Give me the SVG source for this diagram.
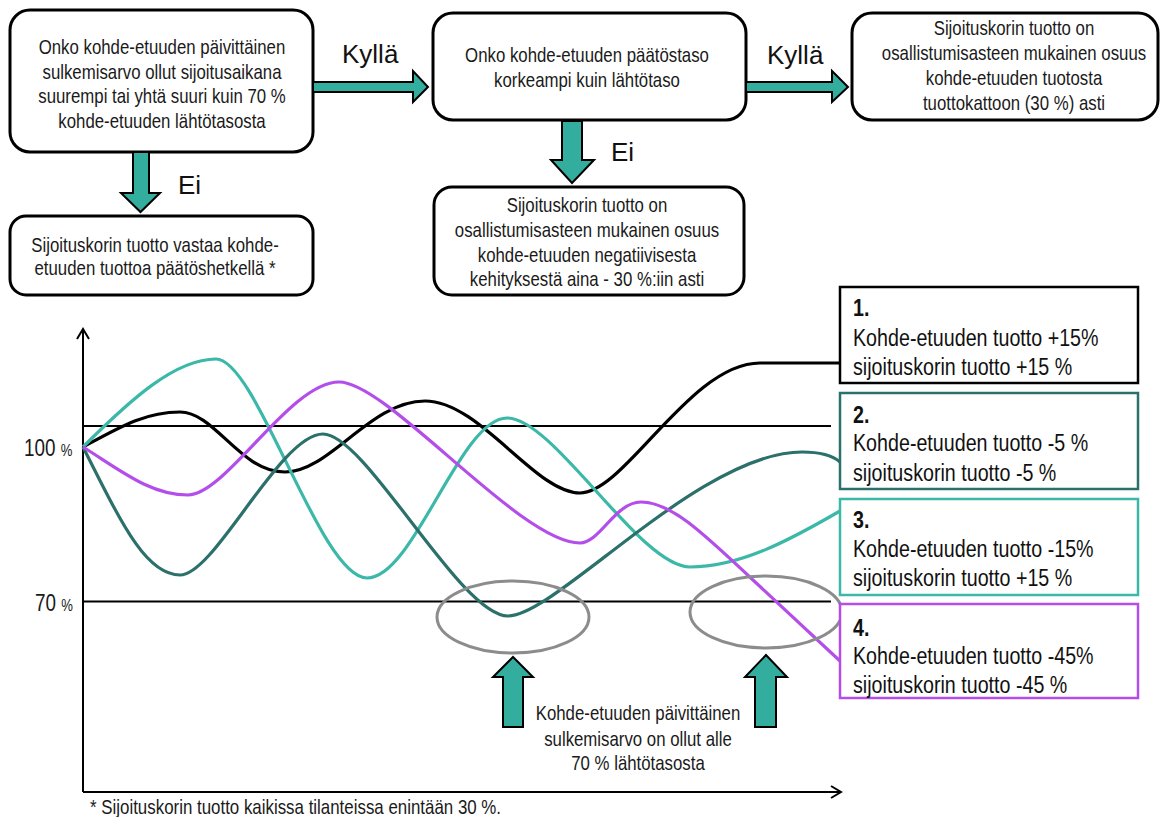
<svg xmlns="http://www.w3.org/2000/svg" width="1162" height="817" viewBox="0 0 1162 817">
<defs>
<style>
.bx{fill:#fff;stroke:#000;stroke-width:3}
.t{font-family:"Liberation Sans",Arial,sans-serif;font-size:20.5px;fill:#1a1a1a;text-anchor:middle}
.lab{font-family:"Liberation Sans",Arial,sans-serif;font-size:26px;fill:#111}
.ar{fill:#33ad9e;stroke:#000;stroke-width:2;stroke-linejoin:miter}
.lg{font-family:"Liberation Sans",Arial,sans-serif;font-size:24px;fill:#111}
.num{font-weight:bold}
.cv{fill:none;stroke-width:3.2}
.ref{stroke:#000;stroke-width:2}
.ell{fill:none;stroke:#8c8c8c;stroke-width:3}
</style>
<marker id="ah" markerWidth="14" markerHeight="14" refX="12" refY="7" orient="auto" markerUnits="userSpaceOnUse">
<path d="M2,1 L12,7 L2,13" fill="none" stroke="#000" stroke-width="2"/>
</marker>
</defs>

<g id="box-question1">
<rect class="bx" x="10" y="10" width="303" height="142" rx="20"/>
<text class="t" transform="matrix(0.82 0 0 1 162 54)">Onko kohde-etuuden päivittäinen</text>
<text class="t" transform="matrix(0.82 0 0 1 162 78.5)">sulkemisarvo ollut sijoitusaikana</text>
<text class="t" transform="matrix(0.82 0 0 1 162 103)">suurempi tai yhtä suuri kuin 70 %</text>
<text class="t" transform="matrix(0.82 0 0 1 162 127.5)">kohde-etuuden lähtötasosta</text>
</g>

<g id="box-question2">
<rect class="bx" x="433" y="13" width="313" height="107" rx="20"/>
<text class="t" transform="matrix(0.82 0 0 1 587 62)">Onko kohde-etuuden päätöstaso</text>
<text class="t" transform="matrix(0.82 0 0 1 587 87)">korkeampi kuin lähtötaso</text>
</g>

<g id="box-yes">
<rect class="bx" x="852" y="13" width="306" height="107" rx="20"/>
<text class="t" transform="matrix(0.82 0 0 1 1014 35)">Sijoituskorin tuotto on</text>
<text class="t" transform="matrix(0.82 0 0 1 1014 60)">osallistumisasteen mukainen osuus</text>
<text class="t" transform="matrix(0.82 0 0 1 1014 85)">kohde-etuuden tuotosta</text>
<text class="t" transform="matrix(0.82 0 0 1 1014 110)">tuottokattoon (30 %) asti</text>
</g>

<g id="box-no1">
<rect class="bx" x="10" y="216" width="303" height="79" rx="16"/>
<text class="t" transform="matrix(0.82 0 0 1 155 252)">Sijoituskorin tuotto vastaa kohde-</text>
<text class="t" transform="matrix(0.82 0 0 1 155 275)">etuuden tuottoa päätöshetkellä *</text>
</g>

<g id="box-no2">
<rect class="bx" x="434" y="187" width="310" height="108" rx="18"/>
<text class="t" transform="matrix(0.82 0 0 1 587 212)">Sijoituskorin tuotto on</text>
<text class="t" transform="matrix(0.82 0 0 1 587 237)">osallistumisasteen mukainen osuus</text>
<text class="t" transform="matrix(0.82 0 0 1 587 262)">kohde-etuuden negatiivisesta</text>
<text class="t" transform="matrix(0.82 0 0 1 587 286)">kehityksestä aina - 30 %:iin asti</text>
</g>

<g id="flow-connectors">
<polygon class="ar" points="313,82 413,82 413,71 428,87 413,102 413,92 313,92"/>
<polygon class="ar" points="746,82 832,82 832,71 848,87 832,102 832,92 746,92"/>
<polygon class="ar" points="133,152 149,152 149,193 160,193 140.5,212 121,193 133,193"/>
<polygon class="ar" points="562,121 582,121 582,160 594,160 572,183 551,160 562,160"/>
<text class="lab" x="342" y="63">Kyllä</text>
<text class="lab" x="767" y="64">Kyllä</text>
<text class="lab" x="178" y="194">Ei</text>
<text class="lab" x="611" y="161">Ei</text>
</g>

<g id="chart">
<line class="ref" x1="83" y1="792" x2="83" y2="329" marker-end="url(#ah)"/>
<line class="ref" x1="83" y1="792" x2="841" y2="792" marker-end="url(#ah)"/>
<line class="ref" x1="83" y1="426" x2="831" y2="426"/>
<line class="ref" x1="83" y1="601.5" x2="831" y2="601.5"/>
<text class="t" transform="matrix(0.82 0 0 1 24 456)" style="text-anchor:start;font-size:23px">100 <tspan style="font-size:16px">%</tspan></text>
<text class="t" transform="matrix(0.82 0 0 1 35 611)" style="text-anchor:start;font-size:23px">70 <tspan style="font-size:16px">%</tspan></text>

<path class="cv" stroke="#000" d="M83,447 C120,427 145,412 180,412 S240,472 285,472 S370,401 425,401 S535,493 580,493 S690,363 760,363 L840,363"/>
<path class="cv" stroke="#3cb8a8" d="M83,447 C130,400 175,359 216,359 S320,578 367,578 S460,418 507,418 S640,567 690,567 S790,540 840,511"/>
<path class="cv" stroke="#2b706b" d="M83,447 C120,520 145,575 180,575 S280,434 323,434 S460,616 508,616 S700,452 802,452 C820,452 832,455 840,462"/>
<path class="cv" stroke="#b34eea" d="M83,447 C120,470 150,495 188,495 S290,382 339,382 S520,543 580,543 C600,543 615,502 641,502 C670,502 700,530 753,580 L840,661"/>

<ellipse class="ell" cx="513" cy="617" rx="76" ry="36"/>
<ellipse class="ell" cx="766" cy="612" rx="76" ry="36"/>
<polygon class="ar" points="503,727 523,727 523,677 533,677 513,657 493,677 503,677"/>
<polygon class="ar" points="755,727 776,727 776,677 787,677 766,655 745,677 755,677"/>
<text class="t" transform="matrix(0.82 0 0 1 638 720)">Kohde-etuuden päivittäinen</text>
<text class="t" transform="matrix(0.82 0 0 1 638 746)">sulkemisarvo on ollut alle</text>
<text class="t" transform="matrix(0.82 0 0 1 638 770)">70 % lähtötasosta</text>
<text class="t" transform="matrix(0.82 0 0 1 90 814)" style="text-anchor:start;font-size:20.6px">* Sijoituskorin tuotto kaikissa tilanteissa enintään 30 %.</text>
</g>

<g id="legend-1">
<rect x="840" y="287" width="298" height="96" fill="#fff" stroke="#000" stroke-width="2.5"/>
<text class="lg num" transform="matrix(0.82 0 0 1 853 316)">1.</text>
<text class="lg" transform="matrix(0.82 0 0 1 853 346)">Kohde-etuuden tuotto +15%</text>
<text class="lg" transform="matrix(0.82 0 0 1 853 375)">sijoituskorin tuotto +15 %</text>
</g>
<g id="legend-2">
<rect x="840" y="393" width="298" height="96" fill="#fff" stroke="#2b706b" stroke-width="2.5"/>
<text class="lg num" transform="matrix(0.82 0 0 1 853 423)">2.</text>
<text class="lg" transform="matrix(0.82 0 0 1 853 451)">Kohde-etuuden tuotto -5 %</text>
<text class="lg" transform="matrix(0.82 0 0 1 853 481)">sijoituskorin tuotto -5 %</text>
</g>
<g id="legend-3">
<rect x="840" y="499" width="298" height="96" fill="#fff" stroke="#3cb8a8" stroke-width="2.5"/>
<text class="lg num" transform="matrix(0.82 0 0 1 853 528)">3.</text>
<text class="lg" transform="matrix(0.82 0 0 1 853 557)">Kohde-etuuden tuotto -15%</text>
<text class="lg" transform="matrix(0.82 0 0 1 853 586)">sijoituskorin tuotto +15 %</text>
</g>
<g id="legend-4">
<rect x="840" y="604" width="298" height="94" fill="#fff" stroke="#b34eea" stroke-width="2.5"/>
<text class="lg num" transform="matrix(0.82 0 0 1 853 636)">4.</text>
<text class="lg" transform="matrix(0.82 0 0 1 853 664)">Kohde-etuuden tuotto -45%</text>
<text class="lg" transform="matrix(0.82 0 0 1 853 693)">sijoituskorin tuotto -45 %</text>
</g>
</svg>
